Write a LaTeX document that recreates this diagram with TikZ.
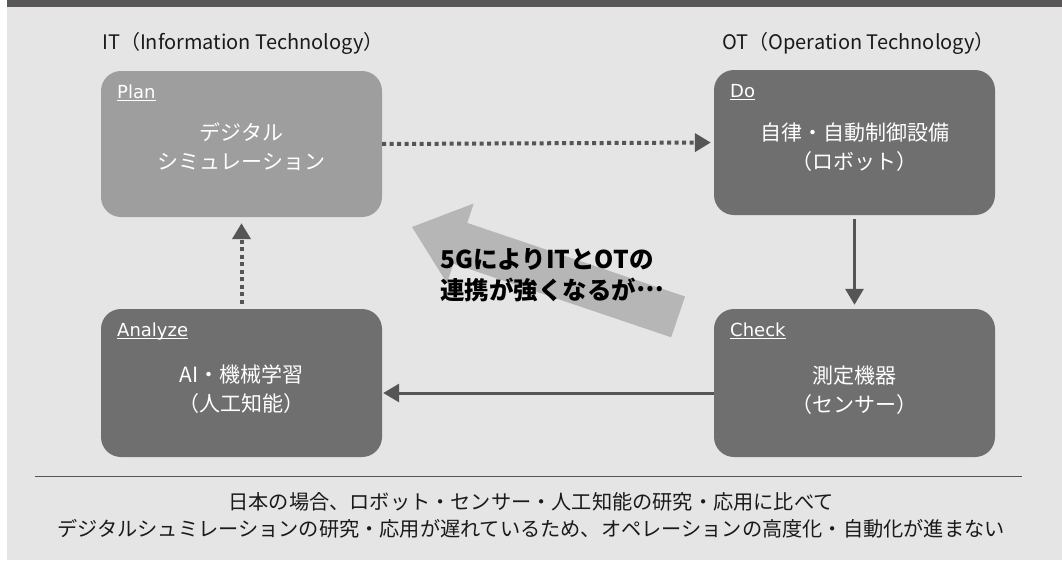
\documentclass[tikz,border=0pt]{standalone}
\usepackage{fontspec}
\setmainfont{Noto Sans CJK JP}
\newfontfamily\latinlab{DejaVu Sans}
\usetikzlibrary{arrows.meta}
\definecolor{bgc}{HTML}{E5E5E5}
\definecolor{barc}{HTML}{595757}
\definecolor{planc}{HTML}{9D9E9D}
\definecolor{boxc}{HTML}{6F6F6F}
\definecolor{arrc}{HTML}{555555}
\definecolor{bigc}{HTML}{B5B6B5}
\definecolor{txtc}{HTML}{1A1A1A}
\tikzset{
  pbox/.style={rectangle, rounded corners=20pt, inner sep=0pt, minimum width=281pt},
  boxlabel/.style={anchor=base west, inner sep=0pt, text=white, font=\latinlab\fontsize{18}{18}\selectfont},
  labline/.style={draw=white, line width=1.2pt},
  boxtext/.style={align=center, text=white, inner sep=0pt, font=\fontsize{21}{29.5}\selectfont},
  head/.style={anchor=west, inner sep=0pt, text=txtc, font=\fontsize{20}{20}\selectfont},
  solidarrow/.style={draw=arrc, line width=3pt, -{Triangle[width=18pt,length=16pt]}},
  dotarrow/.style={draw=arrc, line width=4pt, dash pattern=on 4pt off 3.5pt, -{Triangle[width=18pt,length=16pt]}},
}
\begin{document}
\begin{tikzpicture}[x=1pt,y=-1pt]
\useasboundingbox (0,0) rectangle (1062,560);
\fill[white] (0,0) rectangle (1062,560);
\fill[bgc] (7,0) rectangle (1062,560);
\fill[barc] (7,0) rectangle (1062,7);
% headings
\node[head] (ithead) at (102,43) {IT（Information Technology）};
\node[head] (othead) at (722,43) {OT（Operation Technology）};
% boxes
\node[pbox, fill=planc, minimum height=146pt] (plan) at (241.5,144) {};
\node[pbox, fill=boxc, minimum height=145pt] (do) at (854.5,142.5) {};
\node[pbox, fill=boxc, minimum height=148pt] (check) at (854.5,383) {};
\node[pbox, fill=boxc, minimum height=148pt] (analyze) at (241.5,383) {};
% labels
\node[boxlabel] (planlab) at (117,98) {Plan};
\node[boxlabel] (dolab) at (730,97) {Do};
\node[boxlabel] (checklab) at (730,336) {Check};
\node[boxlabel] (analab) at (117,336) {Analyze};
\foreach \l in {planlab,dolab,checklab,analab}
  \draw[labline] ([yshift=-2.5pt]\l.base west) -- ([yshift=-2.5pt]\l.base east);
% texts
\node[boxtext] (plantext) at ([yshift=-2.5pt]plan.center) {デジタル\\シミュレーション};
\node[boxtext] (dotext) at ([yshift=-4.5pt]do.center) {自律・自動制御設備\\（ロボット）};
\node[boxtext] (checktext) at ([yshift=-7pt]check.center) {測定機器\\（センサー）};
\node[boxtext] (anatext) at ([yshift=-6pt]analyze.center) {AI・機械学習\\（人工知能）};
% big arrow
\fill[bigc] (412,227) -- (473.7,203.5) -- (467.2,222.9) -- (685.0,296.5)
  -- (671.2,337.3) -- (453.4,263.7) -- (446.9,283.1) -- cycle;
\node[anchor=west, align=left, inner sep=0pt, text=black, font=\bfseries\fontsize{24.5}{31}\selectfont] (bigtext) at (440,275.5) {5GによりITとOTの\\連携が強くなるが\raisebox{0.33em}{…}};
% connectors
\draw[dotarrow, shorten >=3pt] (plan.east) -- (do.west);
\draw[solidarrow, shorten <=4pt, shorten >=4pt] (do.south) -- (check.north);
\draw[solidarrow, shorten >=1pt] ([yshift=-10pt]check.west) -- ([yshift=-10pt]analyze.east);
\draw[dotarrow, shorten <=5pt, shorten >=6pt] (analyze.north) -- (plan.south);
% bottom
\draw[arrc, line width=1pt] (35,476) -- (1022,476);
\node[align=center, inner sep=0pt, text=txtc, font=\fontsize{20.2}{27}\selectfont] (bottom) at (531,515.5) {日本の場合、ロボット・センサー・人工知能の研究・応用に比べて\\デジタルシュミレーションの研究・応用が遅れているため、オペレーションの高度化・自動化が進まない};
\end{tikzpicture}
\end{document}
